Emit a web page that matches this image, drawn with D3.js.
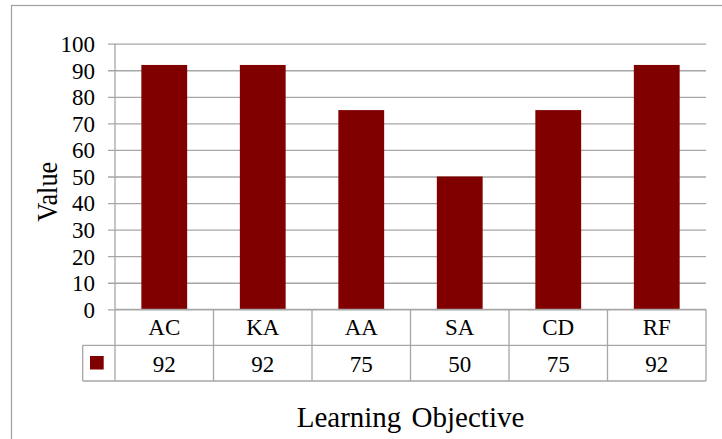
<!DOCTYPE html>
<html><head><meta charset="utf-8">
<script src="https://cdn.jsdelivr.net/npm/d3@7"></script>
<style>html,body{margin:0;padding:0;background:#fff;}svg{display:block;}
svg text{font-family:"Liberation Serif","Times New Roman",Times,"DejaVu Serif",serif !important;}</style>
</head><body>
<svg id="c" width="722" height="439"></svg>
<script>
const categories = ["AC","KA","AA","SA","CD","RF"];
const values = [92,92,75,50,75,92];
const yTicks = [0,10,20,30,40,50,60,70,80,90,100];
const xTitle = "Learning Objective";
const yTitle = "Value";

const svg = d3.select("#c");
const L = 115, R = 706, T = 43.7, B = 309.3;
const row1 = 345.3, row2 = 381;
const gridColor = "#a6a6a6";
const barColor = "#800000";

// outer chart border
svg.append("rect").attr("x",11.5).attr("y",5.5).attr("width",720).attr("height",450)
  .attr("fill","none").attr("stroke","#a0a0a0").attr("stroke-width",1.2);

const x = d3.scaleBand().domain(categories).range([L,R]).paddingInner(0.535).paddingOuter(0.2675);
const y = d3.scaleLinear().domain([0,100]).range([B,T]);

// gridlines + ticks
const yAxis = d3.axisLeft(y).tickValues(yTicks).tickSize(-(R-108)).tickFormat(d3.format("d")).tickPadding(0);
const gy = svg.append("g").attr("transform",`translate(108,0)`).call(yAxis);
gy.attr("font-family",null).attr("font-size",null);
gy.select(".domain").remove();
gy.selectAll(".tick line").attr("stroke",gridColor).attr("stroke-width",1.3).attr("x1",0).attr("x2",R-108);
gy.selectAll(".tick text").attr("x",-13).attr("dy","0.34em")
  .style("font-size","23px").attr("fill","#000");

// bars
svg.append("g").selectAll("rect").data(categories).join("rect")
  .attr("x",d=>x(d)).attr("width",x.bandwidth())
  .attr("y",(d,i)=>y(values[i])).attr("height",(d,i)=>y(0)-y(values[i]))
  .attr("fill",barColor);

// axis line
svg.append("line").attr("x1",L).attr("x2",L).attr("y1",T).attr("y2",row2)
  .attr("stroke",gridColor).attr("stroke-width",1.3);

// data table
const step = (R-L)/categories.length;
const tg = svg.append("g");
tg.append("line").attr("x1",L).attr("x2",R).attr("y1",B).attr("y2",B).attr("stroke",gridColor).attr("stroke-width",1.3);
tg.append("line").attr("x1",82.7).attr("x2",R).attr("y1",row1).attr("y2",row1).attr("stroke",gridColor).attr("stroke-width",1.3);
tg.append("line").attr("x1",82.7).attr("x2",R).attr("y1",row2).attr("y2",row2).attr("stroke",gridColor).attr("stroke-width",1.3);
tg.append("line").attr("x1",82.7).attr("x2",82.7).attr("y1",row1).attr("y2",row2).attr("stroke",gridColor).attr("stroke-width",1.3);
categories.forEach((c,i)=>{
  const xr = L + step*(i+1);
  tg.append("line").attr("x1",xr).attr("x2",xr).attr("y1",B).attr("y2",row2).attr("stroke",gridColor).attr("stroke-width",1.3);
});
tg.selectAll("text.cat").data(categories).join("text").attr("class","cat")
  .attr("x",d=>x(d)+x.bandwidth()/2).attr("y",335)
  .attr("text-anchor","middle").style("font-size","23px").text(d=>d);
tg.selectAll("text.val").data(values).join("text").attr("class","val")
  .attr("x",(d,i)=>x(categories[i])+x.bandwidth()/2).attr("y",371.5)
  .attr("text-anchor","middle").style("font-size","23px").text(d=>d);
tg.append("rect").attr("x",90).attr("y",356).attr("width",13.7).attr("height",13.5).attr("fill",barColor);

// axis titles
svg.append("text").attr("x",(L+R)/2).attr("y",426.5).attr("text-anchor","middle")
  .style("font-size","29px").attr("word-spacing","3px").text(xTitle);
svg.append("text").attr("transform","translate(56.5,191.7) rotate(-90)").attr("text-anchor","middle")
  .style("font-size","29px")
  .attr("textLength",60).attr("lengthAdjust","spacingAndGlyphs").text(yTitle);
</script>
</body></html>
